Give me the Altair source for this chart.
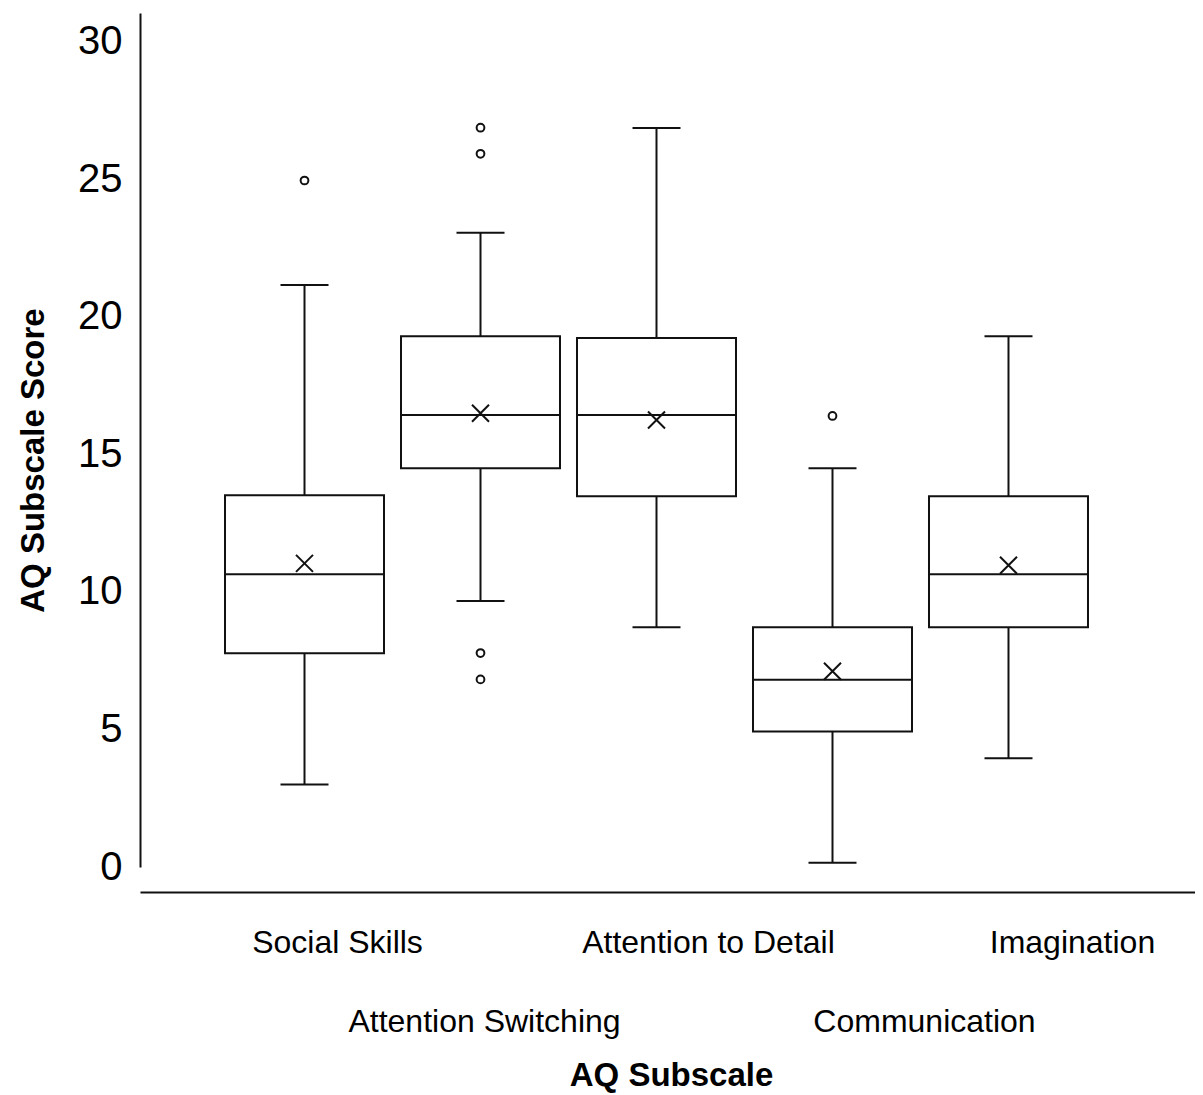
import altair as alt
import pandas as pd

# ---- data ----
categories = ["Social Skills", "Attention Switching", "Attention to Detail",
              "Communication", "Imagination"]
lower_whisker = [3.0, 9.67, 8.72, 0.15, 3.95]
q1 = [7.77, 14.5, 13.48, 4.93, 8.72]
median = [10.64, 16.43, 16.43, 6.81, 10.64]
q3 = [13.52, 19.3, 19.23, 8.72, 13.48]
upper_whisker = [21.16, 23.06, 26.87, 14.5, 19.3]
mean = [11.04, 16.5, 16.25, 7.12, 10.97]

outlier_category = ["Social Skills", "Attention Switching", "Attention Switching",
                    "Attention Switching", "Attention Switching", "Communication"]
outlier_value = [24.96, 26.88, 25.93, 7.78, 6.82, 16.4]

y_ticks = [0, 5, 10, 15, 20, 25, 30]

# ---- layout (not data) ----
second_row = ["Attention Switching", "Communication"]
label_shift = {"Social Skills": 33, "Attention Switching": 4,
               "Attention to Detail": 52, "Communication": 92, "Imagination": 64}

stats = pd.DataFrame({
    "category": categories, "lo": lower_whisker, "q1": q1, "med": median,
    "q3": q3, "hi": upper_whisker, "mean": mean,
})
outliers = pd.DataFrame({"category": outlier_category, "value": outlier_value})

FONT = "Liberation Sans"
INK = "#111111"

row_test = " || ".join(f"datum.value === '{c}'" for c in second_row)
offset_cond = {
    "condition": [{"test": f"datum.value === '{c}'", "value": v}
                  for c, v in label_shift.items()],
    "value": 0,
}
padding_cond = {"condition": {"test": row_test, "value": 139}, "value": 60}

x_axis = alt.Axis(
    title="AQ Subscale", titleFont=FONT, titleFontSize=33, titleFontWeight="bold",
    titleColor="black", titleX=531, titleY=193, titleBaseline="alphabetic",
    titleAlign="center",
    labelFont=FONT, labelFontSize=32, labelColor="black", labelAngle=0,
    labelBaseline="alphabetic", labelPadding=padding_cond, labelOffset=offset_cond,
    labelLimit=0, ticks=False, tickSize=0, domainColor=INK, domainWidth=2,
    offset=25, grid=False, labelOverlap=False,
)
x_scale = alt.Scale(domain=categories, paddingInner=0.0966, paddingOuter=0.5455,
                    align=0.4427)
x_enc = alt.X("category:N", sort=categories, scale=x_scale, axis=x_axis)

y_axis = alt.Axis(
    title="AQ Subscale Score", titleFont=FONT, titleFontSize=33, titleFontWeight="bold",
    titleColor="black", titleX=-97, titleY=447, titleBaseline="alphabetic",
    titleAlign="center", titleAngle=270,
    values=y_ticks, labelFont=FONT, labelFontSize=40, labelColor="black",
    labelPadding=18, ticks=False, tickSize=0, domainColor=INK, domainWidth=2,
    grid=False,
)
y_scale = alt.Scale(domain=[0, 31.05], nice=False, zero=False)


def yq(field):
    return alt.Y(f"{field}:Q", scale=y_scale, axis=y_axis)


base = alt.Chart(stats)

whisker_low = base.mark_rule(color=INK, strokeWidth=2).encode(
    x=x_enc, y=yq("lo"), y2="q1:Q")
whisker_high = base.mark_rule(color=INK, strokeWidth=2).encode(
    x=x_enc, y=yq("q3"), y2="hi:Q")
box = base.mark_bar(fill="white", stroke=INK, strokeWidth=2, opacity=1).encode(
    x=x_enc, y=yq("q1"), y2="q3:Q")
med = base.mark_tick(color=INK, thickness=2, size=159, opacity=1).encode(
    x=x_enc, y=yq("med"))
cap_low = base.mark_tick(color=INK, thickness=2, size=48, opacity=1).encode(
    x=x_enc, y=yq("lo"))
cap_high = base.mark_tick(color=INK, thickness=2, size=48, opacity=1).encode(
    x=x_enc, y=yq("hi"))
mean_pt = base.mark_point(shape="M-1,-1L1,1M1,-1L-1,1", size=289, filled=False,
                          color=INK, strokeWidth=2, opacity=1).encode(
    x=x_enc, y=yq("mean"))
out_pt = alt.Chart(outliers).mark_point(shape="circle", size=60, filled=False,
                                        color=INK, strokeWidth=2, opacity=1).encode(
    x=x_enc, y=yq("value"))

chart = alt.layer(
    whisker_low, whisker_high, box, med, cap_low, cap_high, mean_pt, out_pt
).properties(
    width=1055, height=854,
    autosize=alt.AutoSizeParams(type="none"),
    padding={"left": 132, "top": 5, "right": 0, "bottom": 228},
    background="white",
).configure_view(stroke=None)

chart.save("out.html", embed_options={"renderer": "svg", "actions": False})
